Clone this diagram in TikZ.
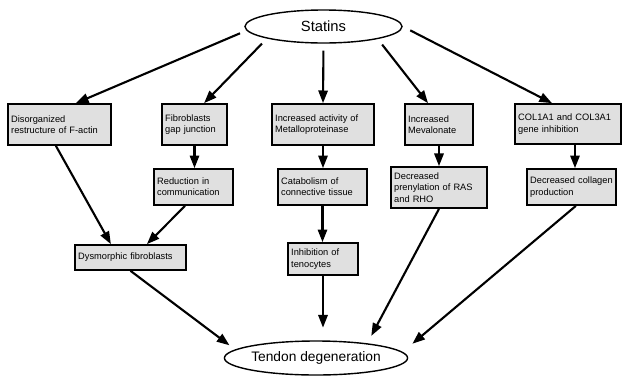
\documentclass[tikz,border=0pt]{standalone}
\usepackage{fontspec}
\setmainfont{Liberation Sans}
\usetikzlibrary{arrows.meta,shapes.geometric}
\definecolor{boxgray}{HTML}{E0E0E0}
\begin{document}
\begin{tikzpicture}[x=0.025cm,y=-0.025cm,
    box/.style={draw, fill=boxgray, line width=1.2pt, align=left,
      inner xsep=0.08cm, inner ysep=0pt, font=\fontsize{6.6}{8}\selectfont},
    oval/.style={draw, ellipse, line width=1pt, inner sep=0pt},
    arr/.style={-{Triangle[length=9pt,width=6.6pt]}, line width=1.5pt}]
	\useasboundingbox (0,0) rectangle (625,376);
	% top and bottom
	\node[oval, minimum width=3.925cm, minimum height=0.825cm,
	  font=\fontsize{10.5}{12}\selectfont] (statins) at (323.5,26.5) {Statins};
	\node[oval, minimum width=4cm, minimum height=0.85cm,
	  font=\fontsize{9.8}{12}\selectfont] (tendon) at (316,358) {Tendon degeneration};
	% first row
	\node[box, text width=2.415cm, minimum height=1.025cm] (disorg) at (59.5,124.5)
	  {Disorganized\\restructure of F-actin};
	\node[box, text width=1.465cm, minimum height=1.025cm] (fibro) at (194.5,124.5)
	  {Fibroblasts\\gap junction};
	\node[box, text width=2.39cm, minimum height=1.025cm] (metallo) at (323,124.5)
	  {Increased activity of\\Metalloproteinase};
	\node[box, text width=1.54cm, minimum height=1.025cm] (meval) at (439,124.5)
	  {Increased\\Mevalonate};
	\node[box, text width=2.49cm, minimum height=1cm] (col) at (568,124)
	  {COL1A1 and COL3A1\\gene inhibition};
	% second row
	\node[box, text width=1.815cm, minimum height=0.9cm] (reduc) at (193.5,187)
	  {Reduction in\\communication};
	\node[box, text width=2.065cm, minimum height=0.9cm] (catab) at (322.5,187)
	  {Catabolism of\\connective tissue};
	\node[box, text width=2.24cm, minimum height=1.025cm] (prenyl) at (439,187.5)
	  {Decreased\\prenylation of RAS\\and RHO};
	\node[box, text width=2.065cm, minimum height=0.9cm] (collag) at (571.5,187)
	  {Decreased collagen\\production};
	% third row
	\node[box, text width=2.615cm, minimum height=0.625cm] (dysmor) at (130.5,257.5)
	  {Dysmorphic fibroblasts};
	\node[box, text width=1.59cm, minimum height=0.8cm] (inhib) at (323,259)
	  {Inhibition of\\tenocytes};

	% from statins
	\draw[arr, shorten <=5pt] (statins.183) -- ([xshift=0.41cm]disorg.north);
	\draw[arr, shorten <=5pt] (statins.192) -- ([xshift=0.24cm]fibro.north);
	\draw[arr, shorten <=5pt] (statins.south) -- (metallo.north);
	\draw[arr, shorten <=5pt] (statins.347) -- ([xshift=-0.275cm]meval.north);
	\draw[arr, shorten <=6pt] (statins.0) -- ([xshift=-0.4cm]col.north);
	% down the columns
	\draw[arr] (fibro.south) -- (fibro.south |- reduc.north);
	\draw[arr] (metallo.south) -- (metallo.south |- catab.north);
	\draw[arr] (meval.south) -- (meval.south |- prenyl.north);
	\draw[arr] ([xshift=0.175cm]col.south) -- ([xshift=0.175cm]col.south |- collag.north);
	\draw[arr] (catab.south) -- (catab.south |- inhib.north);
	% to dysmorphic fibroblasts
	\draw[arr] ([xshift=-0.09cm]disorg.south) -- ([xshift=-0.49cm]dysmor.north);
	\draw[arr] ([xshift=-0.21cm]reduc.south) -- ([xshift=0.41cm]dysmor.north);
	% to tendon degeneration
	\draw[arr, shorten >=5pt] (dysmor.south) -- (tendon.174);
	\draw[arr, shorten >=9pt] (inhib.south) -- (inhib.south |- tendon.north);
	\draw[arr, shorten >=6pt] (prenyl.south) -- (tendon.16);
	\draw[arr, shorten >=9pt] ([xshift=0.11cm]collag.south) -- (tendon.4);
\end{tikzpicture}
\end{document}
